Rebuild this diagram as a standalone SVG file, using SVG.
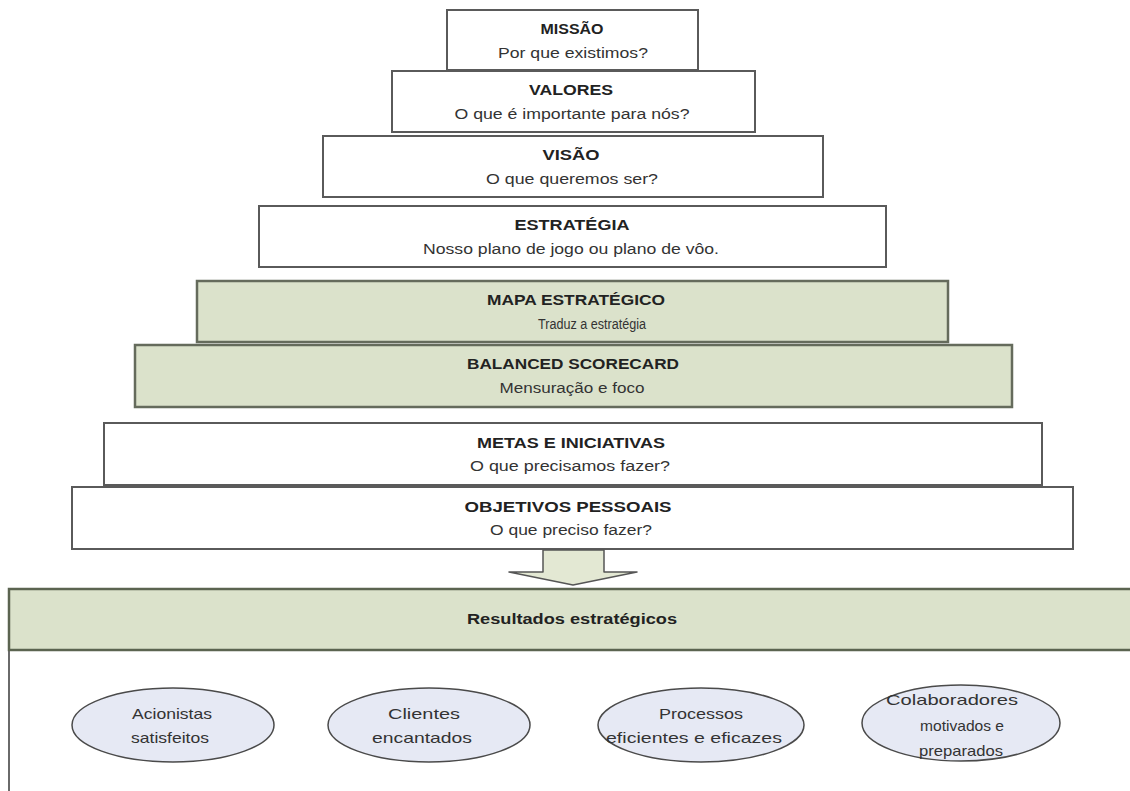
<svg xmlns="http://www.w3.org/2000/svg" width="1130" height="791" viewBox="0 0 1130 791">
<style>
.box{fill:#ffffff;stroke:#5a5a5a;stroke-width:2}
.gbox{fill:#dbe2cb;stroke:#656b5c;stroke-width:2.5}
.t{font-family:"Liberation Sans",Arial,sans-serif;font-size:14px;font-weight:bold;fill:#222;text-anchor:middle}
.s{font-family:"Liberation Sans",Arial,sans-serif;font-size:14px;fill:#333;text-anchor:middle}
.e{font-family:"Liberation Sans",Arial,sans-serif;font-size:15px;fill:#333;text-anchor:middle}
.ell{fill:#e6e9f4;stroke:#4a4a4a;stroke-width:1.5}
</style>
<rect width="1130" height="791" fill="#ffffff"/>
<g id="missao"><rect class="box" x="447" y="10" width="251" height="60"/>
<text class="t" x="572" y="34" textLength="63" lengthAdjust="spacingAndGlyphs">MISSÃO</text>
<text class="s" x="573" y="58" textLength="150" lengthAdjust="spacingAndGlyphs">Por que existimos?</text></g>
<g id="valores"><rect class="box" x="392" y="71" width="363" height="61"/>
<text class="t" x="571" y="95" textLength="84" lengthAdjust="spacingAndGlyphs">VALORES</text>
<text class="s" x="572" y="119" textLength="235" lengthAdjust="spacingAndGlyphs">O que é importante para nós?</text></g>
<g id="visao"><rect class="box" x="323" y="136" width="500" height="61"/>
<text class="t" x="571" y="160" textLength="57" lengthAdjust="spacingAndGlyphs">VISÃO</text>
<text class="s" x="572" y="184" textLength="172" lengthAdjust="spacingAndGlyphs">O que queremos ser?</text></g>
<g id="estrategia"><rect class="box" x="259" y="206" width="627" height="61"/>
<text class="t" x="572" y="230" textLength="115" lengthAdjust="spacingAndGlyphs">ESTRATÉGIA</text>
<text class="s" x="571" y="254" textLength="296" lengthAdjust="spacingAndGlyphs">Nosso plano de jogo ou plano de vôo.</text></g>
<g id="mapa"><rect class="gbox" x="197" y="281" width="751" height="61"/>
<text class="t" x="576" y="305" textLength="178" lengthAdjust="spacingAndGlyphs">MAPA ESTRATÉGICO</text>
<text class="s" x="592" y="329" textLength="108" lengthAdjust="spacingAndGlyphs">Traduz a estratégia</text></g>
<g id="bsc"><rect class="gbox" x="135" y="345" width="877" height="62"/>
<text class="t" x="573" y="369" textLength="212" lengthAdjust="spacingAndGlyphs">BALANCED SCORECARD</text>
<text class="s" x="572" y="393" textLength="145" lengthAdjust="spacingAndGlyphs">Mensuração e foco</text></g>
<g id="metas"><rect class="box" x="104" y="423" width="938" height="62"/>
<text class="t" x="571" y="448" textLength="188" lengthAdjust="spacingAndGlyphs">METAS E INICIATIVAS</text>
<text class="s" x="570" y="471" textLength="200" lengthAdjust="spacingAndGlyphs">O que precisamos fazer?</text></g>
<g id="objetivos"><rect class="box" x="72" y="487" width="1001" height="62"/>
<text class="t" x="568" y="512" textLength="207" lengthAdjust="spacingAndGlyphs">OBJETIVOS PESSOAIS</text>
<text class="s" x="571" y="535" textLength="162" lengthAdjust="spacingAndGlyphs">O que preciso fazer?</text></g>
<g id="connectors">
<polygon points="543,550 604,550 604,572 637,572 573,585 509,572 543,572" fill="#e3e8d3" stroke="#555" stroke-width="1.5" stroke-linejoin="round"/>
</g>
<g id="resultados">
<rect x="9" y="589" width="1140" height="220" fill="#ffffff" stroke="#6a6a6a" stroke-width="2"/>
<rect x="9" y="589" width="1140" height="61" fill="#dbe2cb" stroke="#5b6450" stroke-width="2.5"/>
<text class="t" x="572" y="624" textLength="210" lengthAdjust="spacingAndGlyphs">Resultados estratégicos</text>
</g>
<g id="acionistas"><ellipse class="ell" cx="173" cy="725" rx="101" ry="37"/>
<text class="e" x="172" y="719" textLength="80" lengthAdjust="spacingAndGlyphs">Acionistas</text>
<text class="e" x="170" y="743" textLength="78" lengthAdjust="spacingAndGlyphs">satisfeitos</text></g>
<g id="clientes"><ellipse class="ell" cx="429" cy="725" rx="101" ry="37"/>
<text class="e" x="424" y="719" textLength="72" lengthAdjust="spacingAndGlyphs">Clientes</text>
<text class="e" x="422" y="743" textLength="100" lengthAdjust="spacingAndGlyphs">encantados</text></g>
<g id="processos"><ellipse class="ell" cx="701" cy="725" rx="103" ry="37"/>
<text class="e" x="701" y="719" textLength="84" lengthAdjust="spacingAndGlyphs">Processos</text>
<text class="e" x="694" y="743" textLength="176" lengthAdjust="spacingAndGlyphs">eficientes e eficazes</text></g>
<g id="colaboradores"><ellipse class="ell" cx="961" cy="723" rx="99" ry="38"/>
<text class="e" x="952" y="705" textLength="132" lengthAdjust="spacingAndGlyphs">Colaboradores</text>
<text class="e" x="962" y="731" textLength="84" lengthAdjust="spacingAndGlyphs">motivados e</text>
<text class="e" x="961" y="756" textLength="84" lengthAdjust="spacingAndGlyphs">preparados</text></g>
</svg>
